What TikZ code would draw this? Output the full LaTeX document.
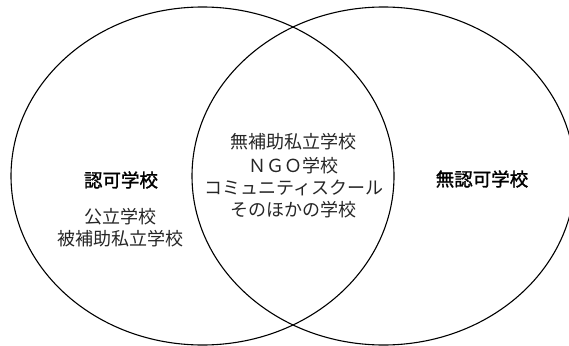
\documentclass[tikz,border=0pt]{standalone}
\usepackage{fontspec}
\newfontfamily\jp{Noto Sans CJK JP}
\newfontfamily\jpb[FakeBold=1.6]{Noto Sans CJK JP}
\begin{document}
\begin{tikzpicture}[x=1pt,y=-1pt,
  ring/.style={line width=1.1pt, draw=black},
  lbl/.style={font=\jp\fontsize{18}{22}\selectfont, text=black!85, inner sep=0pt, anchor=center},
  hd/.style={font=\jpb\fontsize{18.5}{22}\selectfont, text=black, inner sep=0pt, anchor=center}]
\useasboundingbox (0,0) rectangle (569,345);
\clip (0,0) rectangle (569,345);
\draw[ring] (202.5,176) ellipse [x radius=191.5, y radius=169];
\draw[ring] (383.5,176) ellipse [x radius=191.5, y radius=169];
% left
\node[hd] (nin) at (121,180) {認可学校};
\node[lbl] (kou) at (120,217) {公立学校};
\node[lbl] (hih) at (120.5,238.5) {被補助私立学校};
% middle
\node[lbl] (muh) at (293,142) {無補助私立学校};
\node[lbl] (ngo) at (293,165.5) {ＮＧＯ学校};
\node[lbl] (com) at (294,188) {コミュニティスクール};
\node[lbl] (son) at (293,210) {そのほかの学校};
% right
\node[hd] (mun) at (482,179) {無認可学校};
\end{tikzpicture}
\end{document}
